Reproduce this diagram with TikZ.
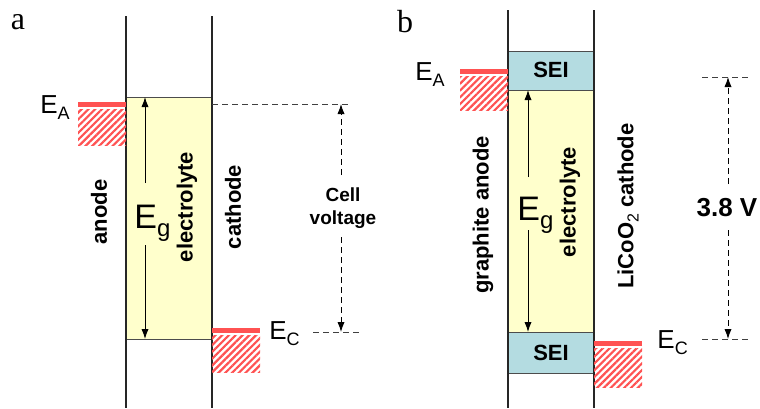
\documentclass[tikz,border=0pt]{standalone}
\usepackage{fontspec}
\setmainfont{Liberation Sans}
\newfontfamily\panelfont{Liberation Serif}
\usetikzlibrary{arrows.meta,patterns.meta}
\definecolor{elyte}{HTML}{FFFFCC}
\definecolor{sei}{HTML}{B4DCE1}
\definecolor{hatchred}{HTML}{FF5252}
\newcommand{\Elev}[2]{E\raisebox{-0.45ex}{\fontsize{#2}{#2}\selectfont\mdseries #1}}

\begin{document}
\begin{tikzpicture}[x=0.5pt,y=-0.5pt,
    wall/.style={draw=black!85,line width=0.6pt},
    box/.style={draw=black!70,line width=0.5pt},
    redbar/.style={fill=hatchred},
    hatched/.style={pattern={Lines[angle=45,distance=2.4pt,line width=1.1pt]},pattern color=hatchred},
    gaparrow/.style={-{Latex[length=5pt,width=3.6pt]},line width=0.5pt},
    dasharrow/.style={gaparrow,dash pattern=on 3pt off 2pt},
    guide/.style={draw=black!75,dash pattern=on 3pt off 2pt,line width=0.5pt},
    side/.style={font=\fontsize{11}{13}\selectfont\bfseries,rotate=90,inner sep=0pt},
    level/.style={font=\fontsize{13}{15}\selectfont,anchor=base west,inner sep=0pt},
    gap/.style={font=\fontsize{17}{19}\selectfont,anchor=base west,inner sep=0pt}
]
\useasboundingbox (0,0) rectangle (760,408);

% ---------------- panel a ----------------
\node[font=\panelfont\fontsize{16}{18}\selectfont,inner sep=0pt] (a) at (18,22) {a};

% electrolyte window and electrodes
\draw[box,fill=elyte] (126,97) rectangle (212,339);
\draw[wall] (126,16) -- (126,408);
\draw[wall] (212,16) -- (212,408);

% anode and cathode levels
\fill[redbar] (78,102) rectangle (126,107);
\fill[hatched] (78,109) rectangle (126,145);
\fill[redbar] (212,328) rectangle (260,333);
\fill[hatched] (212,335) rectangle (260,372);
\node[level] (aEA) at (40,113) {\Elev{A}{9}};
\node[level] (aEC) at (269,339) {\Elev{C}{9}};

% band gap
\coordinate (aTop) at (145,97);
\coordinate (aBot) at (145,339);
\coordinate (aUp) at (145,183);
\coordinate (aDn) at (145,245);
\node[gap] (aEg) at (134,228) {\Elev{g}{12}};
\draw[gaparrow] (aUp) -- (aTop);
\draw[gaparrow] (aDn) -- (aBot);

\node[side] (aAnode) at (99,212) {anode};
\node[side] (aElyte) at (187,207) {electrolyte};
\node[side] (aCathode) at (233,207) {cathode};

% cell voltage
\coordinate (aVtop) at (341,104);
\coordinate (aVbot) at (341,332);
\draw[guide] (212,104) -- (348,104);
\draw[guide] (313,332) -- (360,332);
\node[font=\fontsize{9.5}{11.5}\selectfont\bfseries,align=center,inner sep=0pt] (aCell) at (343,208) {Cell\\voltage};
\draw[dasharrow] (341,175) -- (aVtop);
\draw[dasharrow] (341,237) -- (aVbot);

% ---------------- panel b ----------------
\node[font=\panelfont\fontsize{16}{18}\selectfont,inner sep=0pt] (b) at (405,22) {b};

% SEI layers, electrolyte and electrodes
\draw[box,fill=sei] (508,51) rectangle (594,90);
\draw[box,fill=elyte] (508,90) rectangle (594,332);
\draw[box,fill=sei] (508,332) rectangle (594,373);
\draw[wall] (508,10) -- (508,408);
\draw[wall] (594,10) -- (594,408);
\node[font=\fontsize{11}{13}\selectfont\bfseries] (bSEItop) at (551,70) {SEI};
\node[font=\fontsize{11}{13}\selectfont\bfseries] (bSEIbot) at (551,353) {SEI};

% anode and cathode levels
\fill[redbar] (460,69) rectangle (508,74);
\fill[hatched] (460,76) rectangle (508,110);
\fill[redbar] (594,341) rectangle (642,346);
\fill[hatched] (594,348) rectangle (642,387);
\node[level] (bEA) at (415,80) {\Elev{A}{9}};
\node[level] (bEC) at (657,348) {\Elev{C}{9}};

% band gap
\coordinate (bTop) at (528,90);
\coordinate (bBot) at (528,332);
\coordinate (bUp) at (528,177);
\coordinate (bDn) at (528,230);
\node[gap] (bEg) at (517,220) {\Elev{g}{12}};
\draw[gaparrow] (bUp) -- (bTop);
\draw[gaparrow] (bDn) -- (bBot);

\node[side] (bAnode) at (483,215) {graphite anode};
\node[side] (bElyte) at (570,202) {electrolyte};
\node[side] (bCathode) at (628,206) {LiCoO\raisebox{-0.45ex}{\fontsize{8}{8}\selectfont\mdseries 2} cathode};

% cell voltage
\coordinate (bVtop) at (728,77);
\coordinate (bVbot) at (728,339);
\draw[guide] (702,77) -- (750,77);
\draw[guide] (702,339) -- (750,339);
\node[font=\fontsize{13}{15}\selectfont\bfseries,inner sep=0pt] (bVolt) at (727,208) {3.8 V};
\draw[dasharrow] (728,184) -- (bVtop);
\draw[dasharrow] (728,230) -- (bVbot);

\end{tikzpicture}
\end{document}
